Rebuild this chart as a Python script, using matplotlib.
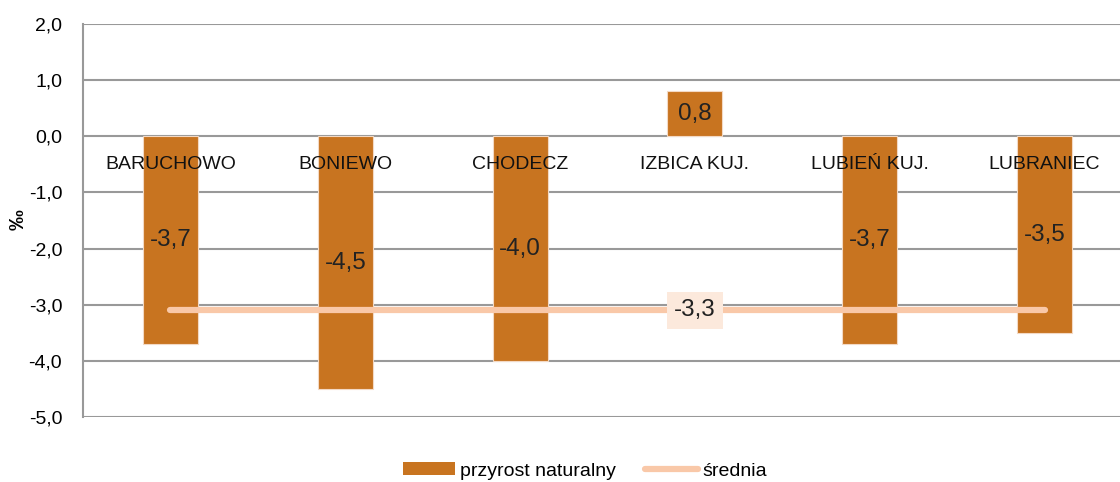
import numpy as np
import matplotlib
matplotlib.use("Agg")
import matplotlib.pyplot as plt
from matplotlib.patches import Patch
from matplotlib.lines import Line2D

plt.rcParams['font.family'] = ['Liberation Sans', 'DejaVu Sans']

# dane
gminy = ['BARUCHOWO', 'BONIEWO', 'CHODECZ', 'IZBICA KUJ.', 'LUBIEŃ KUJ.', 'LUBRANIEC']
przyrost = [-3.7, -4.5, -4.0, 0.8, -3.7, -3.5]
srednia = [-3.1, -3.1, -3.1, -3.1, -3.1, -3.1]
srednia_etykieta = '-3,3'
y_ticks = [2.0, 1.0, 0.0, -1.0, -2.0, -3.0, -4.0, -5.0]

kolor_slupka = '#C87420'
kolor_sredniej = '#F9C8A8'

fig = plt.figure(figsize=(11.2, 4.82), dpi=100)
ax = fig.add_axes([83/1120, 65/482, 1049/1120, 393/482])

x = np.arange(len(gminy))
ax.bar(x, przyrost, width=0.315, color=kolor_slupka, edgecolor='#F3D9C4',
       linewidth=0.8, zorder=2)
ax.plot(x, srednia, color=kolor_sredniej, linewidth=4.5, solid_capstyle='round', zorder=3)

# etykiety wartości
for xi, v in zip(x, przyrost):
    ax.text(xi, v / 2, f'{v:.1f}'.replace('.', ','), ha='center', va='center',
            fontsize=17.5, color='#222222', zorder=4)

# etykieta średniej
ax.text(x[3], srednia[3], srednia_etykieta, ha='center', va='center', fontsize=17.5,
        color='#222222', zorder=5,
        bbox=dict(boxstyle='square,pad=0.3', facecolor='#FCE9DC', edgecolor='none'))

# nazwy gmin
for xi, nazwa in zip(x, gminy):
    ax.text(xi, -0.5, nazwa, ha='center', va='center', fontsize=14, color='#111111', zorder=4)

ax.set_xlim(-0.5, len(gminy) - 0.5)
ax.set_ylim(-5.0, 2.0)
ax.set_yticks(y_ticks)
ax.set_yticklabels([f'{t:.1f}'.replace('.', ',') for t in y_ticks], fontsize=14)
ax.set_xticks([])
ax.tick_params(axis='y', length=0, pad=15)
ax.grid(axis='y', color='#999999', linewidth=1.5, zorder=0)
ax.set_axisbelow(True)
for s in ['top', 'right', 'bottom']:
    ax.spines[s].set_visible(False)
ax.spines['left'].set_color('#999999')
ax.spines['left'].set_linewidth(1.5)

fig.text(18/1120, 1 - 220/482, '‰', rotation=90, ha='center', va='center',
         fontsize=15, fontweight='bold')

uchwyty = [Patch(facecolor=kolor_slupka, edgecolor='none'),
           Line2D([0], [0], color=kolor_sredniej, linewidth=4.5, solid_capstyle='round')]
fig.legend(uchwyty, ['przyrost naturalny', 'średnia'], loc='center',
           bbox_to_anchor=(585/1120, 1 - 471/482), ncol=2, frameon=False,
           fontsize=14, handlelength=2.7, handleheight=0.6, handletextpad=0.25,
           columnspacing=1.5)

fig.savefig('out.png', dpi=100)
